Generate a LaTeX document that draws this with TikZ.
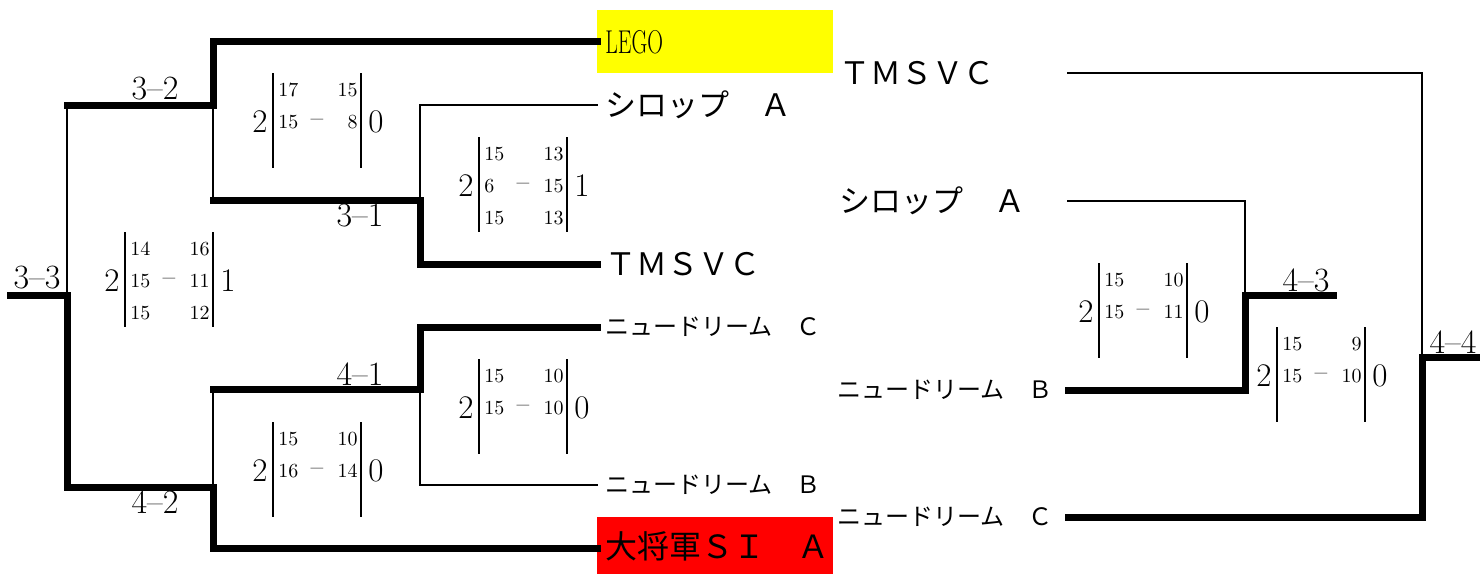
\documentclass[tikz,border=0pt]{standalone}
\usepackage{fontspec}
\newfontfamily\jpfont{Noto Sans CJK JP}
\definecolor{LegoYellow}{HTML}{FFFF00}
\definecolor{SiaRed}{HTML}{FF0000}

% one score card: #1 top of left bar, #2 name, #3/#4 sets won, #5 set scores a/b
\newcommand{\scorecard}[5]{%
  \begin{scope}[shift={(#1)}]
    \draw[scorebar] (0,0) coordinate (#2-nw) -- (0,95) coordinate (#2-sw);
    \draw[scorebar] (88,0) coordinate (#2-ne) -- (88,95) coordinate (#2-se);
    \node[setsbig, anchor=east] (#2-won) at (-5,49) {#3};
    \node[setsbig, anchor=west] (#2-lost) at (95,49) {#4};
    \node[setdash] (#2-dash) at (44,50) {\textendash};
    \foreach \sa/\sb [count=\k] in {#5} {
      \node[setnum, anchor=west] (#2-a\k) at (5,{17+32*(\k-1)}) {\sa};
      \node[setnum, anchor=east] (#2-b\k) at (85,{17+32*(\k-1)}) {\sb};
    }
  \end{scope}}

\begin{document}
\begin{tikzpicture}[x=0.5pt, y=-0.5pt,
  win/.style={line width=3.5pt, line cap=rect},
  lose/.style={line width=1.4pt, line cap=rect},
  scorebar/.style={line width=1.2pt},
  setnum/.style={inner sep=0pt, font=\fontsize{10}{10}\selectfont},
  setdash/.style={inner sep=0pt, font=\fontsize{13}{13}\selectfont},
  setsbig/.style={inner sep=0pt, font=\fontsize{16.5}{16.5}\selectfont},
  roundlbl/.style={inner sep=0pt, font=\fontsize{17}{17}\selectfont},
  teambox/.style={anchor=north west, minimum width=118pt, inner xsep=4pt,
                  text width=110pt, align=left},
  teamL/.style={anchor=west, inner xsep=4pt, inner ysep=0pt,
                font=\jpfont\fontsize{15.5}{15.5}\selectfont},
  teamS/.style={anchor=west, inner xsep=4pt, inner ysep=0pt,
                font=\jpfont\fontsize{12}{12}\selectfont},
  rteam/.style={anchor=east, inner xsep=4pt, inner ysep=0pt, align=left,
                text width=#1}]
  \useasboundingbox (0,0) rectangle (1480,574);

  % left half: teams
  \node[teambox, fill=LegoYellow, minimum height=31.5pt] (lego) at (597,10)
       {\fontsize{16.5}{16.5}\selectfont\scalebox{0.66}[1]{LEGO}};
  \node[teamL] (syrupL) at (597,105) {シロップ　Ａ};
  \node[teamL] (tmsL) at (597,264) {ＴＭＳＶＣ};
  \node[teamS] (dreamCL) at (597,327) {ニュードリーム　Ｃ};
  \node[teamS] (dreamBL) at (597,485) {ニュードリーム　Ｂ};
  \node[teambox, fill=SiaRed, minimum height=28.5pt] (sia) at (597,517)
       {\jpfont\fontsize{16}{16}\selectfont 大将軍ＳＩ　Ａ};

  % left half: bracket
  \coordinate (r33) at (10,295);
  \coordinate (j33) at (67,295);
  \coordinate (j32) at (67,105);
  \coordinate (k32) at (213,105);
  \coordinate (j42) at (67,487);
  \coordinate (k42) at (213,487);
  \coordinate (k31) at (213,200);
  \coordinate (m31) at (420,200);
  \coordinate (k41) at (213,389);
  \coordinate (m41) at (420,389);
  \coordinate (k52) at (213,548);

  \draw[win] (lego.west) -| (k32) -- (j32);
  \draw[lose] (j32) -- (j33);
  \draw[lose] (k32) -- (k31);
  \draw[win] (tmsL.west) -| (m31) -- (k31);
  \draw[lose] (syrupL.west) -| (m31);
  \draw[win] (dreamCL.west) -| (m41) -- (k41);
  \draw[lose] (dreamBL.west) -| (m41);
  \draw[lose] (k41) -- (k42);
  \draw[win] (k52 -| sia.west) -- (k52) -- (k42) -- (j42) -- (j33) -- (r33);

  % right half: teams
  \node[rteam=110pt, font=\jpfont\fontsize{15.5}{15.5}\selectfont] (tmsR) at (1068,73) {ＴＭＳＶＣ};
  \node[rteam=110pt, font=\jpfont\fontsize{15.5}{15.5}\selectfont] (syrupR) at (1068,201) {シロップ　Ａ};
  \node[rteam=111pt, font=\jpfont\fontsize{12}{12}\selectfont] (dreamBR) at (1068,390) {ニュードリーム　Ｂ};
  \node[rteam=111pt, font=\jpfont\fontsize{12}{12}\selectfont] (dreamCR) at (1068,517) {ニュードリーム　Ｃ};

  % right half: bracket
  \coordinate (j44) at (1422,357);
  \coordinate (r44) at (1476,357);
  \coordinate (j43) at (1245,295);
  \coordinate (r43) at (1333,295);

  \draw[lose] (tmsR.east) -| (j44);
  \draw[win] (dreamCR.east) -| (j44) -- (r44);
  \draw[lose] (syrupR.east) -| (j43);
  \draw[win] (dreamBR.east) -| (j43) -- (r43);

  % round labels
  \node[roundlbl] (l33) at (37,278) {3\textendash3};
  \node[roundlbl] (l32) at (155,89) {3\textendash2};
  \node[roundlbl] (l31) at (360,216) {3\textendash1};
  \node[roundlbl] (l41) at (360,374) {4\textendash1};
  \node[roundlbl] (l42) at (155,502) {4\textendash2};
  \node[roundlbl] (l43) at (1306,280) {4\textendash3};
  \node[roundlbl] (l44) at (1453,342) {4\textendash4};

  % score cards
  \scorecard{273,73}{s32}{2}{0}{17/15,15/8}
  \scorecard{479,137}{s31}{2}{1}{15/13,6/15,15/13}
  \scorecard{125,232}{s33}{2}{1}{14/16,15/11,15/12}
  \scorecard{479,359}{s41}{2}{0}{15/10,15/10}
  \scorecard{273,422}{s42}{2}{0}{15/10,16/14}
  \scorecard{1099,263}{s43}{2}{0}{15/10,15/11}
  \scorecard{1277,327}{s44}{2}{0}{15/9,15/10}
\end{tikzpicture}
\end{document}
